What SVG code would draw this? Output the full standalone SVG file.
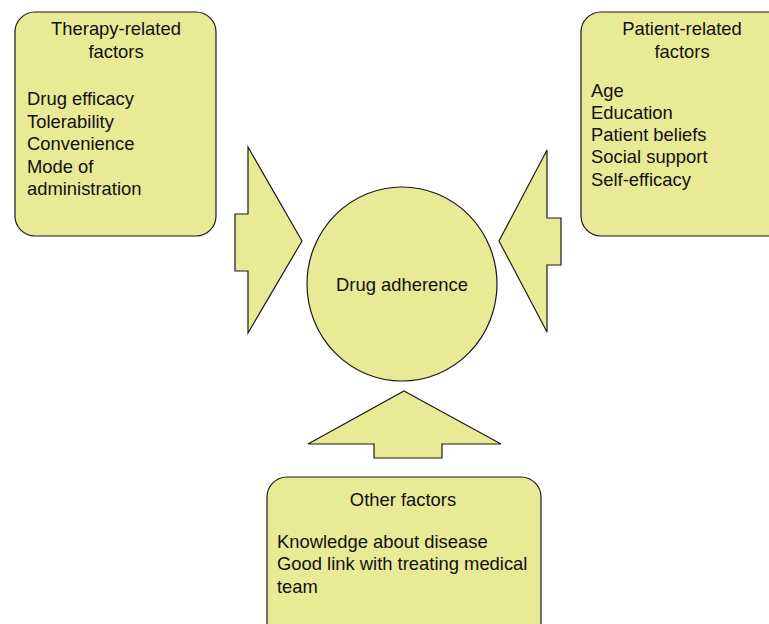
<svg xmlns="http://www.w3.org/2000/svg" width="769" height="624" viewBox="0 0 769 624">
<style>
.s{fill:#e9ea95;stroke:#1a1a1a;stroke-width:1.2}
text{font-family:"Liberation Sans",Arial,sans-serif;font-size:18.4px;fill:#111}
.c{text-anchor:middle}
</style>
<rect width="769" height="624" fill="#fff"/>
<g id="connectors">
<path class="s" d="M248,147 L302,241 L248,333 L248,271 L235,271 L235,214 L248,214 Z"/>
<path class="s" d="M547,150 L499,241 L547,332 L547,265 L561,265 L561,218 L547,218 Z"/>
<path class="s" d="M404,391 L501,444 L442,444 L442,458 L374,458 L374,444 L308,444 Z"/>
</g>
<g id="therapy">
<rect class="s" x="15" y="12" width="201" height="224" rx="20"/>
<text class="c" x="116" y="35">Therapy-related</text>
<text class="c" x="116" y="58">factors</text>
<text x="27" y="105">Drug efficacy</text>
<text x="27" y="128">Tolerability</text>
<text x="27" y="150">Convenience</text>
<text x="27" y="173">Mode of</text>
<text x="27" y="195">administration</text>
</g>
<g id="patient">
<rect class="s" x="581" y="12" width="220" height="224" rx="20"/>
<text class="c" x="682" y="35">Patient-related</text>
<text class="c" x="682" y="58">factors</text>
<text x="591" y="97">Age</text>
<text x="591" y="119">Education</text>
<text x="591" y="141">Patient beliefs</text>
<text x="591" y="163">Social support</text>
<text x="591" y="186">Self-efficacy</text>
</g>
<g id="center">
<ellipse class="s" cx="402" cy="284" rx="95" ry="97"/>
<text class="c" x="402" y="291">Drug adherence</text>
</g>
<g id="other">
<rect class="s" x="267" y="477" width="274" height="180" rx="20"/>
<text class="c" x="403" y="506">Other factors</text>
<text x="277" y="548">Knowledge about disease</text>
<text x="277" y="570">Good link with treating medical</text>
<text x="277" y="593">team</text>
</g>
</svg>
